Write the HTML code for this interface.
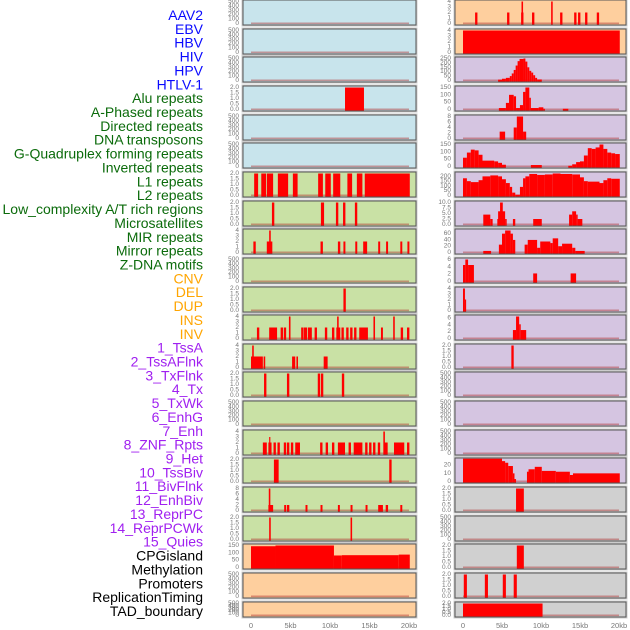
<!DOCTYPE html>
<html><head><meta charset="utf-8"><style>
html,body{margin:0;padding:0;background:#fff;width:630px;height:630px;overflow:hidden}
svg{display:block}
.lab{font-family:"Liberation Sans",sans-serif;font-size:14px}
.tk{font-family:"Liberation Sans",sans-serif;font-size:6.5px;fill:#777}
.xt{font-family:"Liberation Sans",sans-serif;font-size:7.5px;fill:#777}
</style></head><body>
<svg id="chart" width="630" height="630"></svg>
<script>
const labelNames=["AAV2","EBV","HBV","HIV","HPV","HTLV-1","Alu repeats","A-Phased repeats","Directed repeats","DNA transposons","G-Quadruplex forming repeats","Inverted repeats","L1 repeats","L2 repeats","Low_complexity A/T rich regions","Microsatellites","MIR repeats","Mirror repeats","Z-DNA motifs","CNV","DEL","DUP","INS","INV","1_TssA","2_TssAFlnk","3_TxFlnk","4_Tx","5_TxWk","6_EnhG","7_Enh","8_ZNF_Rpts","9_Het","10_TssBiv","11_BivFlnk","12_EnhBiv","13_ReprPC","14_ReprPCWk","15_Quies","CPGisland","Methylation","Promoters","ReplicationTiming","TAD_boundary"];
const labelGroups=[0,0,0,0,0,0,1,1,1,1,1,1,1,1,1,1,1,1,1,2,2,2,2,2,3,3,3,3,3,3,3,3,3,3,3,3,3,3,3,4,4,4,4,4];
const xTicks=[0,5,10,15,20];
const xTickLabels=["0","5kb","10kb","15kb","20kb"];
const tEmpty=[0,100,200,300,400,500], lEmpty=["0","100","200","300","400","500"];
const t2=[0,0.5,1,1.5,2], l2=["0.0","0.5","1.0","1.5","2.0"];
const t4=[0,1,2,3,4], l4=["0","1","2","3","4"];
const t8=[0,2,4,6,8], l8=["0","2","4","6","8"];
const t6=[0,2,4,6], l6=["0","2","4","6"];
const t150=[0,50,100,150], l150=["0","50","100","150"];
const t200=[0,50,100,150,200], l200=["0","50","100","150","200"];
const t250=[0,50,100,150,200,250], l250=["0","50","100","150","200","250"];
const t10=[0,2.5,5,7.5,10], l10=["0.0","2.5","5.0","7.5","10.0"];
const t60=[0,20,40,60], l60=["0","20","40","60"];
const t20=[0,10,20], l20=["0","10","20"];
// segments: [startKb, endKb, value]
const segL4=[[11.9,14.3,2]];
const segL7=[[0.4,0.9,2],[1.3,1.9,2],[2.0,2.8,2],[3.4,4.7,2],[5.3,5.9,2],[8.5,9.1,2],[9.4,10.1,2],[10.4,11.3,2],[12.2,12.8,2],[13.4,14.1,2],[14.4,20.1,2]];
const segL8=[[2.65,2.95,2],[8.85,9.25,2],[10.75,11.05,2],[11.65,11.95,2],[13.15,13.45,2]];
const segL9=[[0.3,0.6,2],[2.0,2.7,2],[2.3,2.5,4],[8.8,9.1,2],[11.0,11.3,2],[11.7,11.95,2],[13.2,13.45,2],[14.2,14.7,2],[16.1,16.35,2],[17.1,17.35,2],[18.9,19.15,2],[19.8,20.05,2]];
const segL11=[[11.7,12.0,2]];
const segL12=[[0.75,1.05,2],[2.3,3.3,2],[3.75,4.05,2],[4.15,4.45,2],[4.8,5.0,4],[6.35,6.65,2],[6.7,7.1,2],[7.2,7.7,2],[8.05,8.35,2],[9.35,9.65,2],[10.25,10.55,2],[10.8,11.3,2],[10.9,11.1,4],[11.45,11.75,2],[12.05,12.35,2],[12.55,12.85,2],[13.05,13.35,2],[13.7,14.8,2],[15.5,15.7,4],[16.45,16.7,2],[18.0,18.2,4],[18.95,19.25,2],[19.75,20.05,2]];
const segL13=[[0,1.5,2],[0.15,0.35,4],[1.6,1.8,2],[5.2,5.6,2],[5.75,5.95,2],[9.2,9.7,2]];
const segL14=[[1.65,1.95,2],[4.55,4.85,2],[8.45,8.75,2],[8.85,9.15,2],[11.5,11.8,2]];
const segL16=[[1.5,2.0,2],[2.2,2.6,2],[2.3,2.45,3],[2.85,3.15,2],[3.35,3.65,2],[4.15,4.45,2],[4.55,4.85,2],[5.05,5.35,2],[5.6,6.2,2],[8.75,9.05,2],[9.45,9.75,2],[10.25,10.55,2],[11.0,11.9,2],[12.35,12.65,2],[13.0,14.1,2],[14.45,14.75,2],[14.95,15.25,2],[15.45,15.75,2],[16.05,16.35,2],[16.8,17.3,2],[16.75,16.95,4],[18.1,19.4,2],[19.75,20.05,2]];
const segL17=[[2.9,3.5,2],[17.5,17.8,2]];
const segL18=[[2.2,2.8,2],[2.25,2.45,8],[4.2,4.45,2],[4.55,4.85,2],[6.9,7.15,2],[8.8,9.05,2],[11.0,11.25,2],[12.6,12.85,2],[14.5,14.75,2],[16.1,16.7,2],[17.05,17.35,2],[18.9,19.15,2]];
const segL19=[[2.3,2.5,2],[12.6,12.8,2]];
const segL20=[[0,3.1,145],[3.1,10.5,150],[10.5,11.5,82],[11.5,18.7,84],[18.7,20.1,88]];
const segR1=[[1.55,1.85,2],[5.65,5.95,2],[7.45,7.75,2],[7.5,7.7,4],[8.85,9.15,2],[11.3,11.5,4],[12.45,12.75,2],[14.25,14.55,2],[14.75,15.05,2],[15.65,15.95,2],[17.15,17.45,2]];
const segR2=[[0,20.1,4]];
const segR3=[[4.5,5,10],[5,5.5,20],[5.5,6,30],[6,6.25,50],[6.25,6.5,80],[6.5,6.75,120],[6.75,7,170],[7,7.25,220],[7.25,7.75,245],[7.75,8,250],[8,8.25,215],[8.25,8.5,150],[8.5,8.75,110],[8.75,9,90],[9,9.25,60],[9.25,9.5,30],[9.5,10.1,12]];
const segR4=[[4.6,5.5,10],[5.5,5.9,45],[5.9,6.5,100],[6.5,6.8,90],[6.8,7.3,10],[7.3,7.7,30],[7.7,8.0,120],[8.0,8.5,150],[8.5,8.7,80],[8.7,9.7,10],[9.7,10.3,15],[10.3,10.5,5],[12.8,13.5,5]];
const segR5=[[4.7,5.4,2.5],[6.5,6.9,4],[6.9,7.7,8],[7.7,8.1,2.5]];
const segR6=[[0,0.5,60],[0.5,1,95],[1,1.5,115],[1.5,2,110],[2,2.5,80],[2.5,4,40],[4,4.5,35],[4.5,5,25],[5,5.5,12],[8.7,10.1,10],[13.5,14,5],[14,14.5,15],[14.5,15,30],[15,15.5,35],[15.5,16,75],[16,16.5,125],[16.5,17,120],[17,17.5,130],[17.5,18,150],[18,18.5,120],[18.5,19,95],[19,19.5,90],[19.5,20.1,85]];
const segR7=[[0,0.5,180],[0.5,1,150],[1,2,140],[2,2.5,160],[2.5,3.5,200],[3.5,4.5,210],[4.5,5,200],[5,5.5,170],[5.5,6,130],[6,6.3,90],[6.3,6.7,30],[6.7,7.3,8],[7.3,7.7,90],[7.7,8,180],[8,8.5,200],[8.5,9.5,225],[9.5,10.5,215],[10.5,11.5,220],[11.5,12.5,230],[12.5,14,225],[14,15,220],[15,15.5,190],[15.5,16,150],[16,17.5,145],[17.5,18,130],[18,18.5,160],[18.5,19,180],[19,20.1,175]];
const segR8=[[2.6,3.5,4.5],[3.5,3.8,2.5],[4.4,4.7,2.5],[4.5,5.4,6],[4.75,5.1,10],[5.4,5.6,2.5],[6.4,6.7,2.5],[9.0,10.1,2.5],[13.6,14.0,4.5],[14.0,14.5,6],[14.5,14.7,4.5],[14.7,15.3,2.5]];
const segR9=[[2.6,3.6,5],[4.6,5.0,25],[5.0,5.4,60],[5.4,6.1,70],[6.1,6.4,60],[6.4,6.7,40],[7.9,8.3,25],[8.3,9.5,40],[9.5,9.9,15],[9.9,11.2,35],[11.2,11.5,30],[11.5,12.2,45],[12.2,12.7,20],[12.7,14.0,28],[14.0,14.4,15],[14.4,15.6,5]];
const segR10=[[0,0.3,4.5],[0.3,0.65,6],[0.65,1.4,4.5],[9.0,9.5,2.2],[13.8,14.5,2.2]];
const segR11=[[0,0.25,4],[0.25,0.4,2]];
const segR12=[[6.4,6.8,2.5],[6.8,7.2,6.5],[7.2,7.4,4.2],[7.4,8.1,2.5]];
const segR13=[[6.2,6.5,2]];
const segR17=[[0,5.0,28],[5.0,5.4,25],[5.4,5.8,23],[5.8,6.4,19],[6.4,6.6,10],[6.6,6.8,3],[8.2,8.4,12],[8.4,9.2,15],[9.2,10.1,18],[10.1,11.9,13],[11.9,13.7,12],[13.7,14.1,8],[14.1,20.1,10]];
const segR18=[[6.8,7.8,2]];
const segR20=[[6.9,7.8,2]];
const segR21=[[0.1,0.5,2],[2.8,3.2,2],[5.1,5.5,2],[6.5,6.9,2]];
const segR22=[[0,10.2,2]];
const E=[];
const BG={b:"#c8e4ec",g:"#c9e1a5",o:"#fecf9e",p:"#d5c5e1",y:"#d0d0d0"};
// [segments, ymax, ticks, tickLabels, bg]
const leftPanels=[[E,500,tEmpty,lEmpty,"b"],[E,500,tEmpty,lEmpty,"b"],[E,500,tEmpty,lEmpty,"b"],[segL4,2,t2,l2,"b"],[E,500,tEmpty,lEmpty,"b"],[E,500,tEmpty,lEmpty,"b"],
[segL7,2,t2,l2,"g"],[segL8,2,t2,l2,"g"],[segL9,4,t4,l4,"g"],[E,500,tEmpty,lEmpty,"g"],[segL11,2,t2,l2,"g"],[segL12,4,t4,l4,"g"],[segL13,4,t4,l4,"g"],[segL14,2,t2,l2,"g"],[E,500,tEmpty,lEmpty,"g"],[segL16,4,t4,l4,"g"],[segL17,2,t2,l2,"g"],[segL18,8,t8,l8,"g"],[segL19,2,t2,l2,"g"],
[segL20,150,t150,l150,"o"],[E,500,tEmpty,lEmpty,"o"],[E,500,tEmpty,lEmpty,"o"]];
const rightPanels=[[segR1,4,t4,l4,"o"],[segR2,4,t4,l4,"o"],[segR3,250,t250,l250,"p"],[segR4,150,t150,l150,"p"],[segR5,8,t8,l8,"p"],[segR6,150,t150,l150,"p"],[segR7,230,t200,l200,"p"],[segR8,10,t10,l10,"p"],[segR9,70,t60,l60,"p"],[segR10,6,t6,l6,"p"],[segR11,4,t4,l4,"p"],[segR12,6.5,t6,l6,"p"],[segR13,2,t2,l2,"p"],[E,500,tEmpty,lEmpty,"p"],[E,500,tEmpty,lEmpty,"p"],[E,500,tEmpty,lEmpty,"p"],[segR17,27,t20,l20,"p"],
[segR18,2,t2,l2,"y"],[E,500,tEmpty,lEmpty,"y"],[segR20,2,t2,l2,"y"],[segR21,2,t2,l2,"y"],[segR22,2,t2,l2,"y"]];

const NS="http://www.w3.org/2000/svg";
const svg=document.getElementById("chart");
function mk(tag,attrs,parent){const e=document.createElementNS(NS,tag);for(const k in attrs)e.setAttribute(k,attrs[k]);(parent||svg).appendChild(e);return e;}
const colors=["#0a0aff","#0b6b0b","#ffa500","#a020f0","#000"];
labelNames.forEach((n,i)=>{
  const t=mk("text",{x:203,y:15+i*13.86,"text-anchor":"end","dominant-baseline":"central",class:"lab",fill:colors[labelGroups[i]]});
  
  
  t.textContent=n;
});
function drawCol(panels,px,pw,x0,kbpx,side){
  const xs=kb=>x0+kb*kbpx;
  panels.forEach((p,i)=>{
    const top=Math.round(i*28.65), h=(i===21)?15:25;
    const g=mk("g",{});
    
    
    mk("rect",{x:px-1,y:top-1,width:pw+2,height:h+2,fill:"none",stroke:"#ccc","stroke-width":1},g);
    mk("rect",{x:px,y:top,width:pw,height:h,fill:BG[p[4]],stroke:"#555","stroke-width":1},g);
    const y0=top+h-1.5, y1=top+1.5;
    const ys=v=>y0-v/p[1]*(y0-y1);
    p[2].forEach((tv,j)=>{
      const t=mk("text",{x:px-4,y:ys(tv),"text-anchor":"end","dominant-baseline":"central",class:"tk"},g);
      
      
      t.textContent=p[3][j];
    });
    mk("rect",{x:xs(0),y:y0-1,width:xs(20)-xs(0),height:1.6,fill:"#b03030",opacity:0.45},g);
    p[0].forEach(s=>{
      const r=mk("rect",{x:xs(s[0]),y:ys(s[2]),width:Math.max(1,xs(s[1])-xs(s[0])),height:y0-ys(s[2])+1,fill:"#ff0000"},g);
      
      
    });
  });
  xTicks.forEach((v,j)=>{
    const t=mk("text",{x:xs(v),y:628,"text-anchor":"middle",class:"xt"});
    
    
    t.textContent=xTickLabels[j];
  });
}
drawCol(leftPanels,243,173,251,7.9,"left");
drawCol(rightPanels,455,171,463,7.8,"right");
</script>
</body></html>
